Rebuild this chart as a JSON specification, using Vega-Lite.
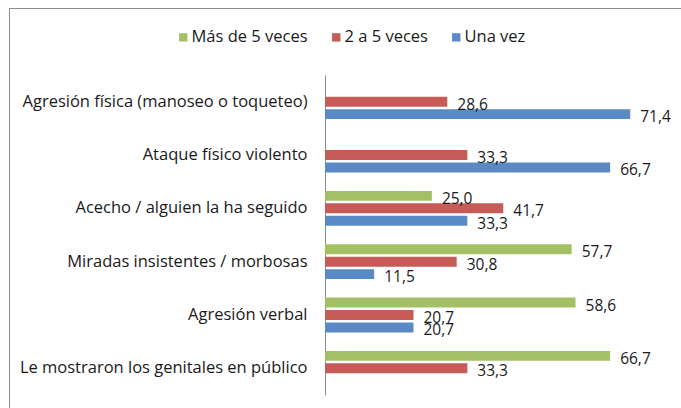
{
  "$schema": "https://vega.github.io/schema/vega-lite/v6.json",
  "width": 672,
  "height": 400,
  "autosize": {"type": "none"},
  "padding": {"left": 9, "top": 8, "right": 0, "bottom": 0},
  "background": "white",
  "config": {
    "font": "Open Sans",
    "locale": {"number": {"decimal": ",", "thousands": ".", "grouping": [3], "currency": ["", " €"]}},
    "view": {"stroke": "#8c8c8c", "strokeWidth": 1, "strokeDash": [672, 1072, 400, 0]}
  },
  "data": {
    "values": [
      {"categoria": "Agresión física (manoseo o toqueteo)", "frecuencia": "2 a 5 veces", "valor": 28.6},
      {"categoria": "Agresión física (manoseo o toqueteo)", "frecuencia": "Una vez", "valor": 71.4},
      {"categoria": "Ataque físico violento", "frecuencia": "2 a 5 veces", "valor": 33.3},
      {"categoria": "Ataque físico violento", "frecuencia": "Una vez", "valor": 66.7},
      {"categoria": "Acecho / alguien la ha seguido", "frecuencia": "Más de 5 veces", "valor": 25.0},
      {"categoria": "Acecho / alguien la ha seguido", "frecuencia": "2 a 5 veces", "valor": 41.7},
      {"categoria": "Acecho / alguien la ha seguido", "frecuencia": "Una vez", "valor": 33.3},
      {"categoria": "Miradas insistentes / morbosas", "frecuencia": "Más de 5 veces", "valor": 57.7},
      {"categoria": "Miradas insistentes / morbosas", "frecuencia": "2 a 5 veces", "valor": 30.8},
      {"categoria": "Miradas insistentes / morbosas", "frecuencia": "Una vez", "valor": 11.5},
      {"categoria": "Agresión verbal", "frecuencia": "Más de 5 veces", "valor": 58.6},
      {"categoria": "Agresión verbal", "frecuencia": "2 a 5 veces", "valor": 20.7},
      {"categoria": "Agresión verbal", "frecuencia": "Una vez", "valor": 20.7},
      {"categoria": "Le mostraron los genitales en público", "frecuencia": "Más de 5 veces", "valor": 66.7},
      {"categoria": "Le mostraron los genitales en público", "frecuencia": "2 a 5 veces", "valor": 33.3}
    ]
  },
  "encoding": {
    "y": {
      "field": "categoria", "type": "nominal", "sort": null,
      "scale": {"range": [67, 387], "paddingInner": 0.3, "paddingOuter": 0.15},
      "axis": {
        "title": null, "offset": -316, "ticks": false, "labelPadding": 18,
        "labelFontSize": 16.5, "labelColor": "#1a1a1a", "labelLimit": 400,
        "domainColor": "#8c8c8c", "domainWidth": 1, "grid": false
      }
    },
    "yOffset": {
      "field": "frecuencia", "type": "nominal",
      "scale": {"domain": ["Más de 5 veces", "2 a 5 veces", "Una vez"], "paddingInner": 0.2, "paddingOuter": 0.1}
    },
    "x": {
      "field": "valor", "type": "quantitative",
      "scale": {"domain": [0, 80], "range": [316, 658], "nice": false},
      "axis": null
    }
  },
  "layer": [
    {
      "mark": {"type": "bar"},
      "encoding": {
        "color": {
          "field": "frecuencia", "type": "nominal",
          "scale": {"domain": ["Más de 5 veces", "2 a 5 veces", "Una vez"], "range": ["#A3C164", "#C65B58", "#5A8AC6"]},
          "legend": {
            "title": null, "orient": "none", "direction": "horizontal",
            "legendX": 166, "legendY": 21, "symbolType": "square", "symbolSize": 70,
            "symbolStrokeWidth": 0, "labelFontSize": 16.5, "labelColor": "#1a1a1a",
            "columnPadding": 20, "labelOffset": 0, "symbolOffset": 0
          }
        }
      }
    },
    {
      "mark": {"type": "text", "align": "left", "baseline": "middle", "dx": 10, "dy": 3, "fontSize": 15.5, "color": "#1a1a1a"},
      "encoding": {
        "text": {"field": "valor", "type": "quantitative", "format": ".1f"}
      }
    }
  ]
}
